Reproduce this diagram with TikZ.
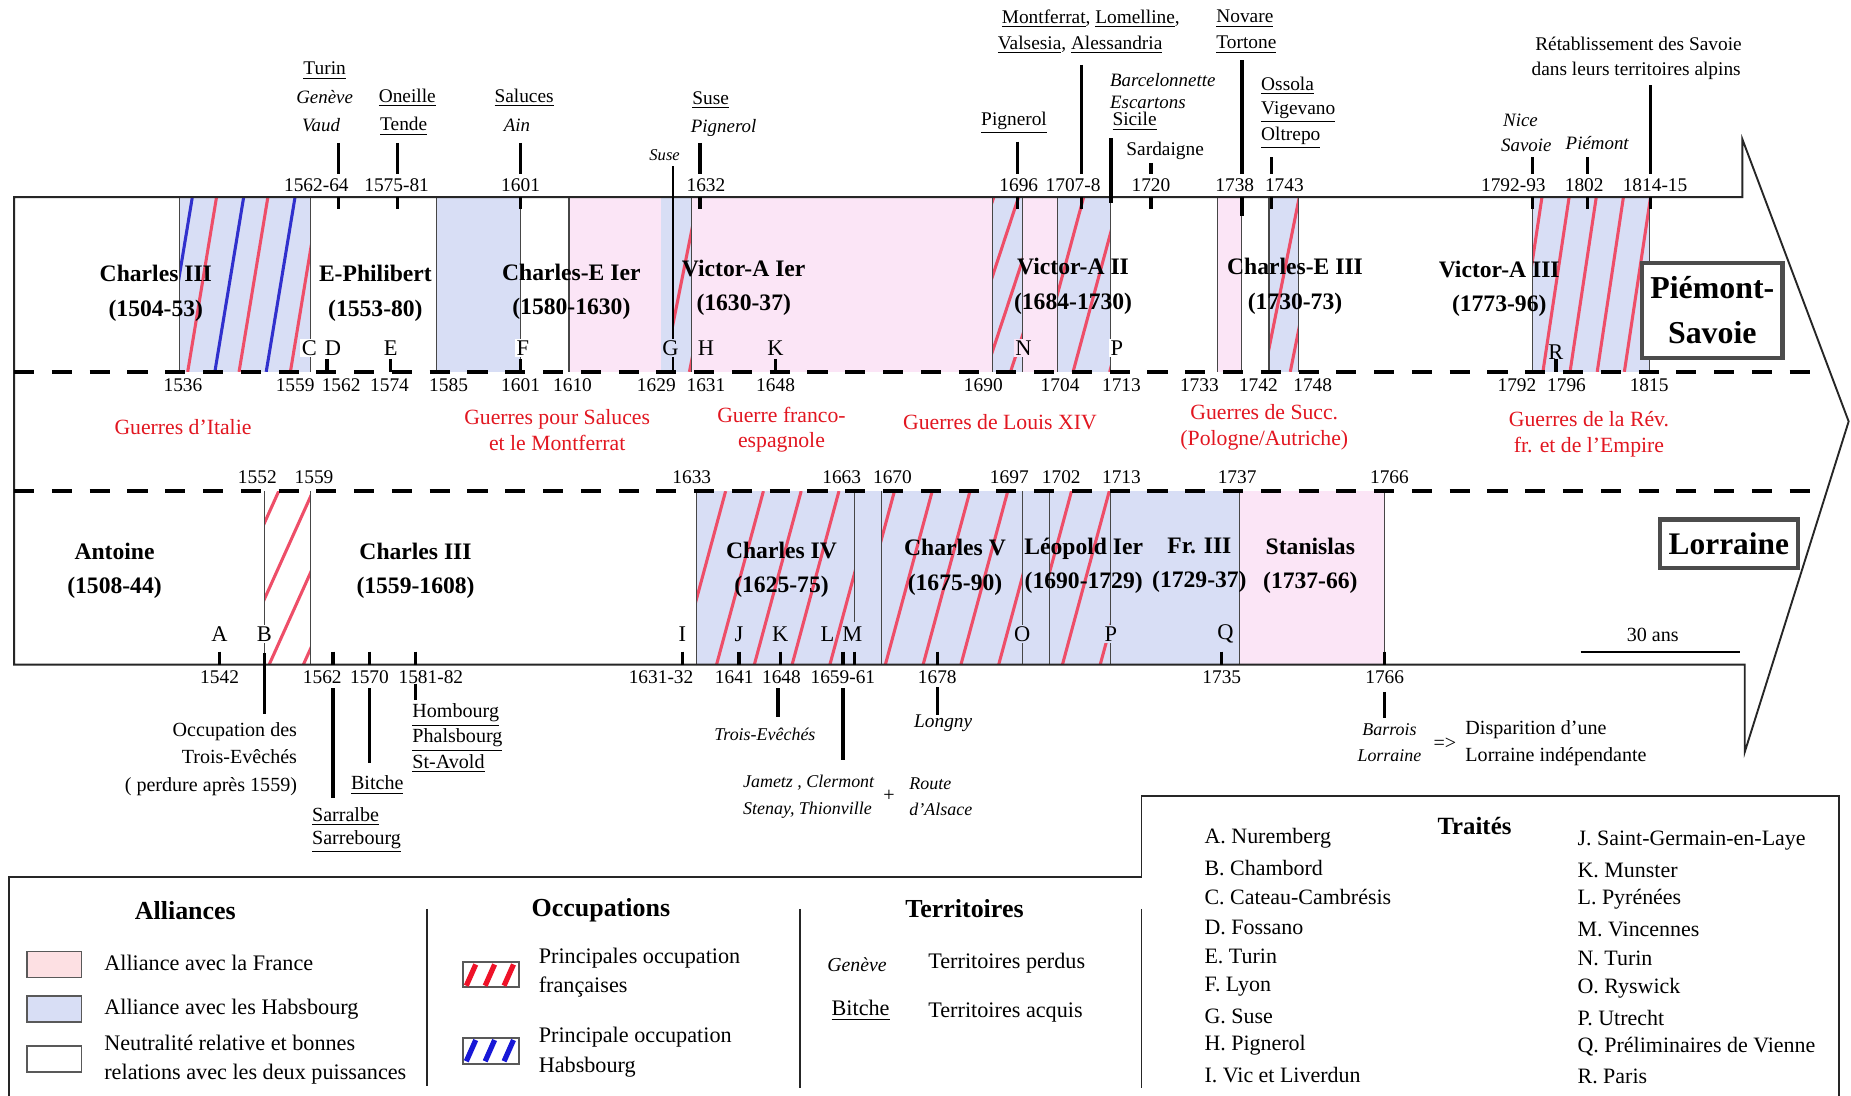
\documentclass[tikz,border=0pt]{standalone}
\usepackage{fontspec}
\setmainfont{Liberation Serif}
\definecolor{pinkF}{RGB}{251,229,246}
\definecolor{blueF}{RGB}{216,222,245}
\definecolor{hred}{RGB}{238,78,104}
\definecolor{hblue}{RGB}{48,48,205}
\definecolor{warred}{RGB}{226,22,32}
\definecolor{legpink}{RGB}{253,224,227}
\definecolor{legred}{RGB}{238,18,40}
\definecolor{legblue}{RGB}{24,24,215}
\definecolor{linegray}{RGB}{70,70,70}
\newcommand\hatchrect[8]{%
  \begin{scope}
    \clip (#1,#3) rectangle (#2,#4);
    \pgfmathsetmacro\hhh{#4-#3}
    \pgfmathsetmacro\hdx{#8*\hhh}
    \pgfmathsetmacro\hsec{#6+#7}
    \foreach \xx in {#6,\hsec,...,#2}
      \draw[draw=#5, line width=1.3pt] (\xx,#4) -- ++(\hdx,-\hhh);
  \end{scope}}
\begin{document}
\begin{tikzpicture}[x=0.5pt,y=-0.5pt,
  ylab/.style={font=\fontsize{8.2}{9}\selectfont, inner sep=0pt},
  ltr/.style={font=\fontsize{9.5}{10}\selectfont, inner sep=0.6pt},
  kname/.style={font=\bfseries\fontsize{10}{14.5}\selectfont, align=center, inner sep=0pt},
  warlab/.style={text=warred, font=\fontsize{9.2}{11}\selectfont, align=center, inner sep=0pt},
  terr/.style={font=\fontsize{8.2}{9}\selectfont, inner sep=0pt},
  terri/.style={font=\itshape\fontsize{8}{9}\selectfont, inner sep=0pt},
  lowt/.style={font=\fontsize{8.5}{11.5}\selectfont, inner sep=0pt},
  lowi/.style={font=\itshape\fontsize{7.6}{9}\selectfont, inner sep=0pt},
  legt/.style={font=\fontsize{9.4}{12.5}\selectfont, inner sep=0pt, anchor=west, align=left},
  legh/.style={font=\bfseries\fontsize{11}{12}\selectfont, inner sep=0pt},
  trt/.style={font=\fontsize{9.3}{11}\selectfont, inner sep=0pt, anchor=west},
  tk/.style={line width=1.4pt},
  sepl/.style={line width=0.5pt, draw=linegray},
  bline/.style={line width=0.8pt, draw=black!85},
  dline/.style={line width=1.6pt, dash pattern=on 8.5pt off 7.5pt},
  boxt/.style={draw=gray!60!black, line width=1.8pt, fill=white, align=center, inner sep=0pt}
]
\useasboundingbox (0,0) rectangle (1568,928);
\fill[white] (0,0) rectangle (1568,928);

% ---------- fills: Piemont
\fill[blueF] (152,167) rectangle (263,315);
\fill[blueF] (370,167) rectangle (441,315);
\fill[pinkF] (482,167) rectangle (560,315);
\fill[blueF] (560,167) rectangle (586,315);
\fill[pinkF] (586,167) rectangle (841,315);
\fill[blueF] (841,167) rectangle (866,315);
\fill[pinkF] (866,167) rectangle (896,315);
\fill[blueF] (896,167) rectangle (941,315);
\fill[pinkF] (1031,167) rectangle (1052,315);
\fill[blueF] (1075,167) rectangle (1100,315);
\fill[blueF] (1298,167) rectangle (1397,315);
% ---------- fills: Lorraine
\fill[blueF] (590,416) rectangle (1050,563);
\fill[pinkF] (1050,416) rectangle (1173,563);

% ---------- hatching
\hatchrect{152}{263}{167}{315}{hblue}{138.5}{43.5}{0.165}
\hatchrect{152}{263}{167}{315}{hred}{159}{43.5}{0.165}
\hatchrect{570}{586}{167}{315}{hred}{540}{22}{0.2}
\hatchrect{841}{866}{167}{315}{hred}{793}{21}{0.33}
\hatchrect{896}{941}{167}{315}{hred}{847}{31}{0.27}
\hatchrect{1075}{1100}{167}{315}{hred}{1071}{22}{0.2}
\hatchrect{1298}{1397}{167}{315}{hred}{1284}{23}{0.15}
\hatchrect{224}{263}{416}{563}{hred}{170}{29}{0.45}
\hatchrect{590}{724}{416}{563}{hred}{543}{32}{0.27}
\hatchrect{747}{866}{416}{563}{hred}{718}{32}{0.27}
\hatchrect{889}{941}{416}{563}{hred}{868}{32}{0.27}

% ---------- separators
\foreach \x in {152,263,370,441,482,586,841,866,896,941,1031,1052,1075,1100,1298,1397}
  \draw[sepl] (\x,167) -- (\x,315);
\foreach \x in {224,263,590,747,866,889,941,1050,1173}
  \draw[sepl] (\x,416) -- (\x,563);
\draw[sepl] (724,416) -- (724,527);

% ---------- outline and dashed lines
\draw[bline] (1476,167) -- (12,167) -- (12,563) -- (1478,563) -- (1478,637) -- (1566,357) -- (1476,118) -- cycle;
\draw[dline] (12,315) -- (1545,315);
\draw[dline] (12,416) -- (1545,416);

% ---------- ticks Piemont top
\foreach \x in {287,337,441,593,862,916,975,1077,1298,1345,1398}
  \draw[tk] (\x,167) -- (\x,177);
\draw[tk] (1052,167) -- (1052,183);
\foreach \x/\a in {287/121,337/121,441/121,593/121,862/120,916/55,975/138,1052/51,1077/133,1298/133,1345/133,1398/72}
  \draw[tk] (\x,\a) -- (\x,147);
\draw[tk] (941,117) -- (941,172);
\draw[line width=1pt] (570,141) -- (570,315);
% ticks Piemont bottom
\foreach \x in {277,331,441,657,1318}
  \draw[tk] (\x,304) -- (\x,315);
% ticks Lorraine bottom
\foreach \x in {186,282,313,352,578,626,661,714,724,794,1035,1173}
  \draw[tk] (\x,552) -- (\x,563);
\draw[tk] (224,553) -- (224,605);
\draw[tk] (282,583) -- (282,676);
\draw[tk] (313,583) -- (313,646);
\draw[tk] (352,579) -- (352,593);
\draw[tk] (659,583) -- (659,607);
\draw[tk] (714,583) -- (714,644);
\draw[tk] (794,582) -- (794,606);
\draw[tk] (1173,586) -- (1173,608);

% ---------- reign names
\node[kname] (p1) at (132,248.5) {Charles III\\(1504-53)};
\node[kname] (p2) at (318,248.5) {E-Philibert\\(1553-80)};
\node[kname] (p3) at (484,247.5) {Charles-E Ier\\(1580-1630)};
\node[kname] (p4) at (630,243.5) {Victor-A Ier\\(1630-37)};
\node[kname] (p5) at (909,242.5) {Victor-A II\\(1684-1730)};
\node[kname] (p6) at (1097,242.5) {Charles-E III\\(1730-73)};
\node[kname] (p7) at (1270,244.5) {Victor-A III\\(1773-96)};
\node[kname] (l1) at (97,483.5) {Antoine\\(1508-44)};
\node[kname] (l2) at (352,483.5) {Charles III\\(1559-1608)};
\node[kname] (l3) at (662,483) {Charles IV\\(1625-75)};
\node[kname] (l4) at (809,480.5) {Charles V\\(1675-90)};
\node[kname] (l5) at (918,479) {Léopold Ier\\(1690-1729)};
\node[kname] (l6) at (1016,479) {Fr. III\\(1729-37)};
\node[kname] (l7) at (1110,479) {Stanislas\\(1737-66)};

% ---------- boxed titles
\node[boxt, minimum width=59.5pt, minimum height=40pt, font=\bfseries\fontsize{13.5}{19}\selectfont] (ps) at (1450.5,263) {Piémont-\\Savoie};
\node[boxt, minimum width=58.5pt, minimum height=20.5pt, font=\bfseries\fontsize{13.3}{15}\selectfont] (lo) at (1464.5,460.5) {Lorraine};

% ---------- year labels
\foreach \x/\t [count=\i] in {268/1562-64, 336/1575-81, 441/1601, 598/1632, 863/1696, 909/1707-8, 975/1720, 1046/1738, 1088/1743, 1282/1792-93, 1342/1802, 1402/1814-15}
  \node[ylab] (pt\i) at (\x,157) {\t};
\foreach \x/\t [count=\i] in {155/1536, 250/1559, 289/1562, 330/1574, 380/1585, 441/1601, 485/1610, 556/1629, 598/1631, 657/1648, 833/1690, 898/1704, 950/1713, 1016/1733, 1066/1742, 1112/1748, 1285/1792, 1327/1796, 1397/1815}
  \node[ylab] (pb\i) at (\x,326) {\t};
\foreach \x/\t [count=\i] in {218/1552, 266/1559, 586/1633, 713/1663, 756/1670, 855/1697, 899/1702, 950/1713, 1048/1737, 1177/1766}
  \node[ylab] (lt\i) at (\x,404) {\t};
\foreach \x/\t [count=\i] in {186/1542, 273/1562, 313/1570, 365/1581-82, 560/1631-32, 622/1641, 662/1648, 714/1659-61, 794/1678, 1035/1735, 1173/1766}
  \node[ylab] (lb\i) at (\x,574) {\t};

% ---------- treaty letters
\node[ltr, fill=white] (tC) at (262,295) {C};
\node[ltr] (tD) at (282,295) {D};
\node[ltr] (tE) at (331,295) {E};
\node[ltr, fill=white] (tF) at (443,295) {F};
\node[ltr, fill=blueF] (tG) at (568,295) {G};
\node[ltr] (tH) at (598,295) {H};
\node[ltr] (tK) at (657,295) {K};
\node[ltr, fill=pinkF] (tN) at (867,295) {N};
\node[ltr, fill=white] (tP) at (946,295) {P};
\node[ltr] (tR) at (1318,298) {R};
\node[ltr] (uA) at (186,537) {A};
\node[ltr, fill=white] (uB) at (224,537) {B};
\node[ltr] (uI) at (578,537) {I};
\node[ltr] (uJ) at (626,537) {J};
\node[ltr] (uK) at (661,537) {K};
\node[ltr] (uL) at (701,537) {L};
\node[ltr] (uM) at (722,537) {M};
\node[ltr, fill=blueF] (uO) at (866,537) {O};
\node[ltr, fill=blueF] (uP) at (941,537) {P};
\node[ltr] (uQ) at (1038,537) {Q};

% ---------- territories (Piemont)
\node[terr] (n1) at (275,60) {\underline{Turin}};
\node[terri] (n2) at (275,82) {Genève};
\node[terri] (n3) at (272,106) {Vaud};
\node[terr] (n4) at (345,83) {\underline{Oneille}};
\node[terr] (n5) at (342,107) {\underline{Tende}};
\node[terr] (n6) at (444,83) {\underline{Saluces}};
\node[terri] (n7) at (438,106) {Ain};
\node[terri, font=\itshape\fontsize{7}{8}\selectfont] (n8) at (563,131) {Suse};
\node[terr] (n9) at (602,85) {\underline{Suse}};
\node[terri] (n10) at (613,108) {Pignerol};
\node[terr] (n11) at (859,104) {\underline{Pignerol}};
\node[terr] (n12) at (924,16) {\underline{Montferrat}, \underline{Lomelline},};
\node[terr] (n13) at (915,38) {\underline{Valsesia}, \underline{Alessandria}};
\node[terri, anchor=west] (n14) at (940,68) {Barcelonnette};
\node[terri, anchor=west] (n15) at (940,87) {Escartons};
\node[terr, anchor=west] (n16) at (942,103) {\underline{Sicile}};
\node[terr] (n17) at (987,128) {Sardaigne};
\node[terr, anchor=west] (n18) at (1030,16) {\underline{Novare}};
\node[terr, anchor=west] (n19) at (1030,38) {\underline{Tortone}};
\node[terr, anchor=west] (n20) at (1068,73) {\underline{Ossola}};
\node[terr, anchor=west] (n21) at (1068,95) {\underline{Vigevano}};
\node[terr, anchor=west] (n22) at (1068,117) {\underline{Oltrepo}};
\node[terri] (n23) at (1288,102) {Nice};
\node[terri] (n24) at (1293,123) {Savoie};
\node[terri] (n25) at (1353,121) {Piémont};
\node[terr] (n26) at (1388,37) {Rétablissement des Savoie};
\node[terr] (n27) at (1386,60) {dans leurs territoires alpins};

% ---------- wars
\node[warlab] (w1) at (155,362) {Guerres d'Italie};
\node[warlab] (w2) at (472,364) {Guerres pour Saluces\\et le Montferrat};
\node[warlab] (w3) at (662,364) {Guerre franco-\\espagnole};
\node[warlab] (w4) at (847,358) {Guerres de Louis XIV};
\node[warlab] (w5) at (1071,362) {Guerres de Succ.\\(Pologne/Autriche)};
\node[warlab] (w6) at (1346,368) {Guerres de la Rév.\\fr. et de l'Empire};

% ---------- territories (Lorraine)
\node[lowt, align=right, anchor=east] (o1) at (252,643) {Occupation des\\Trois-Evêchés\\( perdure après 1559)};
\node[lowt, anchor=west] (s1) at (264,692) {\underline{Sarralbe}};
\node[lowt, anchor=west] (s2) at (264,713) {\underline{Sarrebourg}};
\node[lowt, anchor=west] (s3) at (297,665) {\underline{Bitche}};
\node[lowt, anchor=west] (s4) at (349,606) {\underline{Hombourg}};
\node[lowt, anchor=west] (s5) at (349,627) {\underline{Phalsbourg}};
\node[lowt, anchor=west] (s6) at (349,647) {\underline{St-Avold}};
\node[lowi] (s7) at (648,622) {Trois-Evêchés};
\node[lowi] (s8) at (685,663) {Jametz , Clermont};
\node[lowi] (s9) at (684,686) {Stenay, Thionville};
\node[lowt] (s10) at (753,674) {+};
\node[lowi, anchor=west] (s11) at (770,664) {Route};
\node[lowi, anchor=west] (s12) at (770,686) {d'Alsace};
\node[lowi, font=\itshape\fontsize{8.2}{9}\selectfont] (s13) at (799,613) {Longny};
\node[lowi] (s14) at (1177,618) {Barrois};
\node[lowi] (s15) at (1177,640) {Lorraine};
\node[lowt] (s16) at (1224,630) {=>};
\node[lowt, anchor=west] (s17) at (1241,618) {Disparition d'une};
\node[lowt, anchor=west] (s18) at (1241,641) {Lorraine indépendante};
\node[lowt] (s19) at (1400,538) {30 ans};
\draw[line width=0.8pt] (1339,552) -- (1474,552);

% ---------- legend frames
\draw[bline] (8,928) -- (8,743) -- (967,743) -- (967,674) -- (1558,674) -- (1558,928);
\draw[bline] (362,770) -- (362,920);
\draw[bline] (678,770) -- (678,922);
\draw[bline] (967,770) -- (967,922);

% Alliances
\node[legh] (h1) at (157,771) {Alliances};
\draw[gray!70!black, line width=0.8pt, fill=legpink] (23,806) rectangle (69,828);
\draw[gray!70!black, line width=0.8pt, fill=blueF] (23,844) rectangle (69,866);
\draw[gray!70!black, line width=0.8pt, fill=white] (23,886) rectangle (69,908);
\node[legt] (a1) at (88,816) {Alliance avec la France};
\node[legt] (a2) at (88,855) {Alliance avec les Habsbourg};
\node[legt] (a3) at (88,897.5) {Neutralité relative et bonnes\\relations avec les deux puissances};
% Occupations
\node[legh] (h2) at (509,771) {Occupations};
\draw[gray!70!black, line width=0.8pt, fill=white] (392,815) rectangle (440,836);
\foreach \x in {395,411,427}
  \draw[legred, line width=2.2pt] (\x,835) -- (\x+8,817);
\draw[gray!70!black, line width=0.8pt, fill=white] (392,879) rectangle (440,901);
\foreach \x in {395,411,427}
  \draw[legblue, line width=2.2pt] (\x,899) -- (\x+8,881);
\node[legt] (b1) at (456,824) {Principales occupation\\françaises};
\node[legt] (b2) at (456,891.5) {Principale occupation\\Habsbourg};
% Territoires
\node[legh] (h3) at (817,770) {Territoires};
\node[terri, font=\itshape\fontsize{8.4}{9}\selectfont] (c1) at (726,817) {Genève};
\node[legt] (c2) at (786,816) {Territoires perdus};
\node[legt, anchor=center] (c3) at (729,856) {\underline{Bitche}};
\node[legt] (c4) at (786,858) {Territoires acquis};

% Traites
\node[legh, font=\bfseries\fontsize{10.5}{12}\selectfont] (h4) at (1249,700) {Traités};
\foreach \t [count=\i] in {A. Nuremberg, B. Chambord, C. Cateau-Cambrésis, D. Fossano, E. Turin, F. Lyon, G. Suse, H. Pignerol, I. Vic et Liverdun}
  \node[trt] (ta\i) at (1020,{710+25.1*(\i-1)}) {\t};
\foreach \t [count=\i] in {J. Saint-Germain-en-Laye, K. Munster, L. Pyrénées, M. Vincennes, N. Turin, O. Ryswick, P. Utrecht, Q. Préliminaires de Vienne, R. Paris}
  \node[trt] (tb\i) at (1336,{712+25*(\i-1)}) {\t};
\end{tikzpicture}
\end{document}
